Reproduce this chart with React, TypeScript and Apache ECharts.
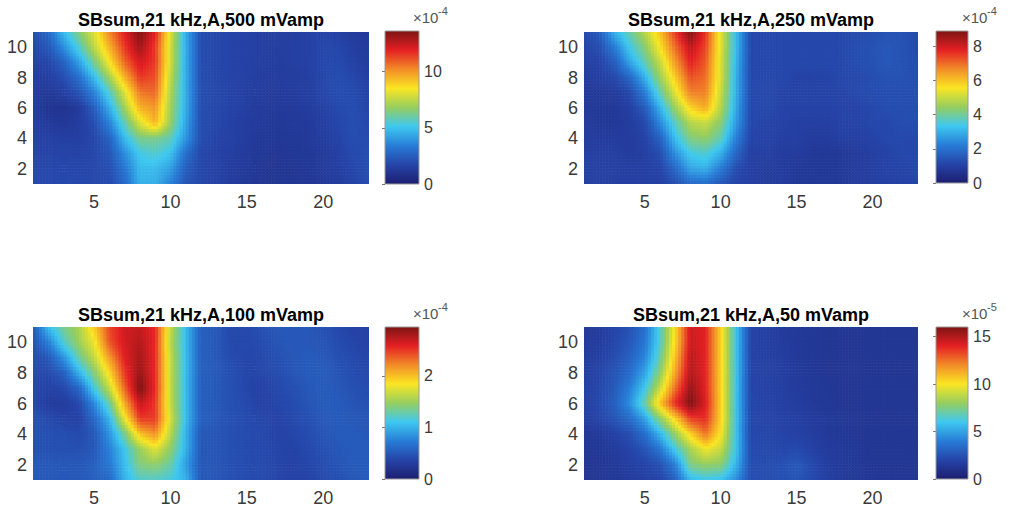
import React, { useEffect, useRef } from "react";
import * as echarts from "echarts";

// ---------- data ----------
const xRange = [1, 23];
const yRange = [1, 11];
const xTicks = [5, 10, 15, 20];
const yTicks = [2, 4, 6, 8, 10];

const titles = [
  "SBsum,21 kHz,A,500 mVamp",
  "SBsum,21 kHz,A,250 mVamp",
  "SBsum,21 kHz,A,100 mVamp",
  "SBsum,21 kHz,A,50 mVamp",
];

// values in colorbar units; rows from y = 11 (top) down to y = 1, columns x = 1..23
const sb500 = [
  [2.0, 2.8, 4.8, 6.5, 8.0, 10.3, 12.0, 13.5, 12.0, 8.0, 4.5, 2.0, 1.8, 1.7, 1.6, 1.5, 1.5, 1.5, 1.6, 1.7, 1.6, 1.3, 1.2],
  [1.8, 2.3, 3.8, 5.5, 7.5, 9.5, 11.5, 13.0, 11.5, 7.8, 4.5, 2.0, 1.8, 1.7, 1.6, 1.5, 1.5, 1.5, 1.6, 1.8, 1.8, 1.5, 1.3],
  [1.6, 1.8, 2.6, 4.2, 6.2, 8.5, 10.8, 12.2, 11.5, 7.8, 4.5, 2.0, 1.8, 1.7, 1.6, 1.5, 1.4, 1.5, 1.6, 1.8, 1.9, 1.6, 1.4],
  [1.4, 1.5, 2.0, 3.0, 4.8, 7.0, 9.5, 11.5, 11.2, 7.5, 4.5, 2.0, 1.8, 1.7, 1.6, 1.4, 1.4, 1.4, 1.5, 1.8, 2.0, 1.8, 1.5],
  [1.3, 1.2, 1.5, 2.2, 3.5, 5.5, 8.0, 10.5, 10.8, 7.2, 4.5, 2.0, 1.8, 1.7, 1.5, 1.4, 1.3, 1.4, 1.5, 1.7, 2.0, 1.9, 1.6],
  [1.4, 1.0, 1.0, 1.3, 2.5, 4.5, 7.0, 9.5, 10.0, 7.0, 4.5, 2.0, 1.8, 1.7, 1.5, 1.3, 1.3, 1.3, 1.4, 1.6, 1.9, 2.0, 1.7],
  [1.5, 1.3, 1.2, 1.4, 2.0, 3.5, 5.8, 8.0, 9.5, 6.8, 4.3, 2.0, 1.8, 1.6, 1.4, 1.3, 1.2, 1.3, 1.3, 1.5, 1.8, 2.0, 1.8],
  [1.6, 1.6, 1.5, 1.5, 1.8, 2.6, 4.8, 6.3, 6.3, 5.8, 4.0, 2.0, 1.7, 1.6, 1.4, 1.2, 1.2, 1.2, 1.3, 1.4, 1.7, 2.0, 1.9],
  [1.7, 1.7, 1.7, 1.7, 1.8, 2.2, 3.8, 5.2, 5.5, 5.0, 3.0, 1.8, 1.6, 1.5, 1.3, 1.2, 1.1, 1.2, 1.2, 1.3, 1.6, 1.9, 2.0],
  [1.8, 1.8, 1.8, 1.8, 1.8, 2.0, 3.2, 4.8, 4.8, 4.2, 2.5, 1.8, 1.6, 1.4, 1.3, 1.1, 1.1, 1.1, 1.2, 1.3, 1.5, 1.8, 2.0],
  [1.8, 1.8, 1.8, 1.8, 1.8, 1.9, 2.8, 4.6, 4.5, 3.5, 2.2, 1.8, 1.6, 1.4, 1.2, 1.1, 1.1, 1.1, 1.1, 1.2, 1.4, 1.7, 1.9],
];

const sb250 = [
  [1.2, 1.6, 3.0, 3.9, 4.8, 6.0, 7.5, 8.9, 7.6, 5.3, 3.2, 1.2, 1.2, 1.2, 1.2, 1.2, 1.2, 1.2, 1.2, 1.3, 1.4, 1.4, 1.2],
  [1.1, 1.3, 2.2, 3.4, 4.3, 5.6, 7.0, 8.2, 7.4, 5.3, 3.2, 1.2, 1.2, 1.2, 1.2, 1.2, 1.2, 1.2, 1.3, 1.4, 1.5, 1.4, 1.2],
  [1.0, 1.1, 1.6, 2.8, 3.8, 5.0, 6.5, 7.8, 7.2, 5.2, 3.1, 1.2, 1.2, 1.2, 1.2, 1.2, 1.2, 1.2, 1.3, 1.4, 1.5, 1.4, 1.3],
  [0.9, 1.0, 1.2, 1.8, 3.0, 4.5, 5.9, 7.3, 7.0, 5.2, 3.0, 1.2, 1.2, 1.2, 1.1, 1.1, 1.1, 1.2, 1.2, 1.3, 1.4, 1.4, 1.3],
  [0.8, 0.8, 0.9, 1.2, 2.2, 3.8, 5.3, 6.8, 6.8, 5.0, 3.0, 1.2, 1.2, 1.1, 1.1, 1.1, 1.1, 1.1, 1.2, 1.3, 1.3, 1.3, 1.3],
  [0.8, 0.8, 0.8, 1.0, 1.6, 3.0, 4.5, 5.8, 6.3, 4.8, 2.9, 1.2, 1.2, 1.1, 1.1, 1.1, 1.1, 1.1, 1.1, 1.2, 1.3, 1.3, 1.3],
  [0.9, 0.8, 0.8, 0.9, 1.2, 2.4, 3.7, 4.8, 5.0, 4.3, 2.7, 1.2, 1.1, 1.1, 1.0, 1.0, 1.0, 1.1, 1.1, 1.2, 1.2, 1.3, 1.3],
  [0.9, 0.9, 0.9, 0.9, 1.1, 1.7, 3.2, 4.2, 4.4, 3.8, 2.3, 1.1, 1.1, 1.0, 1.0, 0.9, 0.9, 1.0, 1.0, 1.1, 1.2, 1.2, 1.2],
  [1.0, 1.0, 1.0, 0.9, 1.0, 1.3, 2.5, 3.4, 3.6, 3.0, 1.8, 1.0, 1.0, 0.9, 0.9, 0.8, 0.8, 0.8, 0.9, 1.0, 1.1, 1.2, 1.2],
  [1.0, 1.0, 1.0, 1.0, 1.0, 1.1, 1.8, 2.8, 3.0, 2.2, 1.3, 1.0, 0.9, 0.9, 0.8, 0.8, 0.8, 0.8, 0.9, 1.0, 1.1, 1.1, 1.2],
  [1.0, 1.0, 1.0, 1.0, 1.0, 1.0, 1.3, 1.8, 1.9, 1.5, 1.1, 1.0, 0.9, 0.9, 0.8, 0.8, 0.8, 0.8, 0.9, 1.0, 1.0, 1.1, 1.1],
];

const sb100 = [
  [0.5, 1.05, 1.35, 1.55, 1.95, 2.45, 2.65, 2.7, 2.55, 1.65, 1.05, 0.55, 0.5, 0.4, 0.4, 0.45, 0.5, 0.5, 0.5, 0.45, 0.4, 0.35, 0.35],
  [0.45, 0.75, 1.2, 1.5, 1.8, 2.4, 2.65, 2.75, 2.55, 1.6, 1.05, 0.55, 0.5, 0.4, 0.4, 0.42, 0.48, 0.5, 0.5, 0.48, 0.42, 0.38, 0.35],
  [0.42, 0.5, 0.85, 1.3, 1.65, 2.15, 2.6, 2.8, 2.55, 1.65, 1.05, 0.55, 0.5, 0.42, 0.38, 0.4, 0.45, 0.5, 0.52, 0.5, 0.45, 0.4, 0.38],
  [0.4, 0.4, 0.55, 1.0, 1.4, 1.9, 2.5, 2.85, 2.55, 1.65, 1.05, 0.55, 0.5, 0.45, 0.38, 0.38, 0.42, 0.48, 0.52, 0.52, 0.48, 0.42, 0.4],
  [0.4, 0.35, 0.4, 0.6, 1.15, 1.65, 2.35, 2.95, 2.55, 1.65, 1.05, 0.55, 0.5, 0.45, 0.38, 0.35, 0.4, 0.45, 0.5, 0.52, 0.5, 0.45, 0.42],
  [0.4, 0.3, 0.3, 0.4, 0.8, 1.3, 2.1, 2.7, 2.5, 1.65, 1.05, 0.55, 0.5, 0.45, 0.4, 0.35, 0.38, 0.42, 0.48, 0.52, 0.52, 0.48, 0.45],
  [0.45, 0.4, 0.35, 0.35, 0.6, 1.0, 1.8, 2.5, 2.5, 1.7, 1.05, 0.55, 0.5, 0.45, 0.42, 0.38, 0.36, 0.4, 0.45, 0.5, 0.52, 0.5, 0.48],
  [0.45, 0.45, 0.45, 0.4, 0.5, 0.85, 1.35, 2.0, 2.2, 1.6, 1.0, 0.5, 0.48, 0.45, 0.42, 0.4, 0.36, 0.38, 0.42, 0.48, 0.52, 0.52, 0.5],
  [0.45, 0.45, 0.45, 0.45, 0.5, 0.75, 1.1, 1.5, 1.75, 1.45, 1.0, 0.5, 0.48, 0.45, 0.42, 0.4, 0.38, 0.36, 0.4, 0.45, 0.5, 0.52, 0.52],
  [0.5, 0.5, 0.5, 0.5, 0.55, 0.7, 1.05, 1.4, 1.45, 1.3, 0.9, 0.5, 0.48, 0.45, 0.42, 0.4, 0.38, 0.36, 0.38, 0.42, 0.48, 0.52, 0.52],
  [0.5, 0.5, 0.5, 0.5, 0.55, 0.6, 1.0, 1.2, 1.2, 1.15, 1.0, 0.5, 0.48, 0.45, 0.42, 0.4, 0.38, 0.36, 0.36, 0.4, 0.45, 0.5, 0.52],
];

const sb50 = [
  [1.5, 1.6, 2.0, 2.5, 3.5, 6.5, 10.2, 14.5, 14.0, 10.5, 6.0, 2.0, 1.8, 1.6, 1.5, 1.4, 1.3, 1.3, 1.3, 1.3, 1.3, 1.3, 1.3],
  [1.5, 1.7, 2.1, 2.7, 3.8, 6.5, 10.3, 14.5, 14.0, 10.5, 6.0, 2.0, 1.8, 1.6, 1.5, 1.4, 1.3, 1.3, 1.3, 1.3, 1.3, 1.3, 1.3],
  [1.6, 1.8, 2.3, 3.0, 4.2, 7.0, 10.8, 14.8, 14.0, 10.5, 6.0, 2.0, 1.8, 1.7, 1.5, 1.4, 1.3, 1.3, 1.3, 1.3, 1.3, 1.3, 1.3],
  [1.7, 2.0, 2.6, 3.4, 5.0, 7.8, 11.5, 15.0, 14.0, 10.5, 6.0, 2.0, 1.9, 1.7, 1.6, 1.4, 1.3, 1.3, 1.3, 1.3, 1.3, 1.3, 1.3],
  [1.8, 2.1, 2.8, 4.0, 6.0, 9.0, 12.5, 15.5, 14.0, 10.5, 6.0, 2.0, 1.9, 1.8, 1.6, 1.5, 1.4, 1.3, 1.3, 1.3, 1.3, 1.3, 1.3],
  [1.8, 2.2, 3.0, 4.5, 7.0, 10.8, 13.8, 16.0, 14.2, 10.5, 6.0, 2.1, 2.0, 1.8, 1.7, 1.5, 1.4, 1.3, 1.3, 1.3, 1.3, 1.3, 1.3],
  [1.7, 2.0, 2.6, 3.4, 5.0, 7.8, 10.5, 13.5, 13.8, 10.5, 6.0, 2.1, 2.0, 1.9, 1.8, 1.6, 1.5, 1.4, 1.3, 1.3, 1.3, 1.3, 1.3],
  [1.4, 1.5, 1.9, 2.4, 3.5, 5.5, 8.0, 10.5, 12.5, 10.0, 6.0, 2.1, 2.1, 2.0, 1.9, 1.7, 1.5, 1.4, 1.3, 1.3, 1.3, 1.3, 1.3],
  [1.3, 1.4, 1.6, 2.0, 2.6, 3.8, 6.2, 8.3, 9.8, 9.0, 6.0, 2.2, 2.2, 2.1, 2.2, 1.9, 1.6, 1.5, 1.4, 1.3, 1.3, 1.3, 1.3],
  [1.3, 1.3, 1.5, 1.8, 2.0, 2.5, 4.0, 7.5, 8.0, 7.8, 5.5, 2.3, 2.3, 2.4, 2.8, 2.2, 1.7, 1.5, 1.4, 1.3, 1.3, 1.3, 1.3],
  [1.3, 1.3, 1.4, 1.6, 1.8, 2.0, 3.0, 5.5, 6.0, 5.8, 4.5, 2.3, 2.3, 2.4, 2.6, 2.2, 1.8, 1.5, 1.4, 1.4, 1.3, 1.3, 1.3],
];

// colorbars: range maximum, tick values, exponent of the scale factor
const cbMax500 = 13.6;
const cbTicks500 = [0, 5, 10];
const cbExp500 = "-4";
const cbMax250 = 8.9;
const cbTicks250 = [0, 2, 4, 6, 8];
const cbExp250 = "-4";
const cbMax100 = 2.95;
const cbTicks100 = [0, 1, 2];
const cbExp100 = "-4";
const cbMax50 = 16;
const cbTicks50 = [0, 5, 10, 15];
const cbExp50 = "-5";

// ---------- styling ----------
const FONT = '"Liberation Sans", Arial, Helvetica, sans-serif';
const LABEL = "#3a3a3a";

const cmapStops: [number, number[]][] = [
  [0, [28, 30, 112]],
  [0.125, [38, 68, 168]],
  [0.25, [40, 125, 215]],
  [0.375, [62, 200, 240]],
  [0.5, [150, 206, 95]],
  [0.625, [250, 230, 35]],
  [0.75, [242, 140, 40]],
  [0.875, [228, 32, 36]],
  [1, [125, 20, 20]],
];

function cmap(f: number): string {
  const t = Math.max(0, Math.min(1, f));
  for (let i = 1; i < cmapStops.length; i++) {
    const [f1, c1] = cmapStops[i];
    const [f0, c0] = cmapStops[i - 1];
    if (t <= f1) {
      const u = (t - f0) / (f1 - f0);
      const c = c0.map((v, k) => Math.round(v + (c1[k] - v) * u));
      return `rgb(${c[0]},${c[1]},${c[2]})`;
    }
  }
  const c = cmapStops[cmapStops.length - 1][1];
  return `rgb(${c[0]},${c[1]},${c[2]})`;
}

function toData(rows: number[][]) {
  const out: number[][] = [];
  rows.forEach((row, r) => {
    const y = yRange[1] - r;
    row.forEach((v, c) => out.push([c + 1, y, v]));
  });
  return out;
}

// interpolated (MATLAB "shading interp"-like) rendering of each grid quad
function makeRender(rows: number[][], max: number) {
  const val = (x: number, y: number) => rows[yRange[1] - y][x - 1];
  const N = 5;
  return (_params: any, api: any) => {
    const x = api.value(0);
    const y = api.value(1);
    if (x >= xRange[1] || y >= yRange[1]) return null;
    const p0 = api.coord([x, y]);
    const p1 = api.coord([x + 1, y + 1]);
    const v00 = val(x, y);
    const v10 = val(x + 1, y);
    const v01 = val(x, y + 1);
    const v11 = val(x + 1, y + 1);
    const w = (p1[0] - p0[0]) / N;
    const h = (p0[1] - p1[1]) / N;
    const children: any[] = [];
    for (let i = 0; i < N; i++) {
      for (let j = 0; j < N; j++) {
        const fx = (i + 0.5) / N;
        const fy = (j + 0.5) / N;
        const v =
          v00 * (1 - fx) * (1 - fy) + v10 * fx * (1 - fy) + v01 * (1 - fx) * fy + v11 * fx * fy;
        const ovx = i < N - 1 || x + 1 < xRange[1] ? 0.6 : 0;
        const ovy = j < N - 1 || y + 1 < yRange[1] ? 0.6 : 0;
        children.push({
          type: "rect",
          shape: {
            x: p0[0] + i * w,
            y: p0[1] - (j + 1) * h - ovy,
            width: w + ovx,
            height: h + ovy,
          },
          style: { fill: cmap(v / max) },
        });
      }
    }
    return { type: "group", children };
  };
}

function makeBarRender() {
  return (_params: any, api: any) => {
    const p0 = api.coord([0, 0]);
    const p1 = api.coord([1, api.value(1)]);
    return {
      type: "rect",
      shape: { x: p0[0], y: p1[1], width: p1[0] - p0[0], height: p0[1] - p1[1] },
      style: {
        fill: new echarts.graphic.LinearGradient(
          0,
          1,
          0,
          0,
          cmapStops.map(([o, c]) => ({ offset: o, color: `rgb(${c[0]},${c[1]},${c[2]})` }))
        ),
        stroke: "#9a9a9a",
        lineWidth: 1,
      },
    };
  };
}

const panels = [
  { rows: sb500, title: titles[0], max: cbMax500, ticks: cbTicks500, exp: cbExp500,
    plot: { left: 33, top: 32, width: 336, height: 152 }, bar: { left: 385, top: 31, width: 34, height: 153 } },
  { rows: sb250, title: titles[1], max: cbMax250, ticks: cbTicks250, exp: cbExp250,
    plot: { left: 584, top: 32, width: 334, height: 152 }, bar: { left: 936, top: 31, width: 32, height: 152 } },
  { rows: sb100, title: titles[2], max: cbMax100, ticks: cbTicks100, exp: cbExp100,
    plot: { left: 33, top: 327, width: 336, height: 153 }, bar: { left: 385, top: 327, width: 34, height: 152 } },
  { rows: sb50, title: titles[3], max: cbMax50, ticks: cbTicks50, exp: cbExp50,
    plot: { left: 584, top: 327, width: 334, height: 153 }, bar: { left: 936, top: 327, width: 32, height: 152 } },
];

function buildOption() {
  const grid: any[] = [];
  const xAxis: any[] = [];
  const yAxis: any[] = [];
  const series: any[] = [];
  const graphic: any[] = [];

  panels.forEach((p, i) => {
    const gp = 2 * i;
    const gb = 2 * i + 1;
    grid.push({ ...p.plot, show: false });
    grid.push({ ...p.bar, show: false });

    xAxis.push({
      type: "value",
      gridIndex: gp,
      min: xRange[0],
      max: xRange[1],
      axisLine: { show: false },
      axisTick: { show: false },
      splitLine: { show: false },
      axisLabel: { customValues: xTicks, fontSize: 18, color: LABEL, fontFamily: FONT, margin: 9 },
    });
    xAxis.push({ type: "value", gridIndex: gb, min: 0, max: 1, show: false });

    yAxis.push({
      type: "value",
      gridIndex: gp,
      min: yRange[0],
      max: yRange[1],
      axisLine: { show: false },
      axisTick: { show: false },
      splitLine: { show: false },
      axisLabel: { customValues: yTicks, fontSize: 18, color: LABEL, fontFamily: FONT, margin: 6 },
    });
    yAxis.push({
      type: "value",
      gridIndex: gb,
      position: "right",
      min: 0,
      max: p.max,
      axisLine: { show: false },
      splitLine: { show: false },
      axisTick: { show: true, inside: true, length: 3, customValues: p.ticks, lineStyle: { color: "#777" } },
      axisLabel: { customValues: p.ticks, fontSize: 16, color: LABEL, fontFamily: FONT, margin: 5 },
    });

    series.push({
      type: "custom",
      xAxisIndex: gp,
      yAxisIndex: gp,
      silent: true,
      data: toData(p.rows),
      renderItem: makeRender(p.rows, p.max),
    });
    series.push({
      type: "custom",
      xAxisIndex: gb,
      yAxisIndex: gb,
      silent: true,
      data: [[0, p.max]],
      renderItem: makeBarRender(),
      z: 3,
    });

    graphic.push({
      type: "text",
      x: p.plot.left + p.plot.width / 2,
      y: p.plot.top - 12,
      style: {
        text: p.title,
        fontSize: 18,
        fontWeight: "bold",
        fontFamily: FONT,
        fill: "#000",
        align: "center",
        verticalAlign: "middle",
      },
    });
    const ex = p.bar.left + p.bar.width - 6;
    const ey = p.bar.top - 14;
    graphic.push({
      type: "text",
      x: ex,
      y: ey,
      style: { text: "×10", fontSize: 15, fontFamily: FONT, fill: "#555", align: "left", verticalAlign: "middle" },
    });
    graphic.push({
      type: "text",
      x: ex + 25,
      y: ey - 6,
      style: { text: p.exp, fontSize: 11, fontFamily: FONT, fill: "#555", align: "left", verticalAlign: "middle" },
    });
  });

  return {
    animation: false,
    backgroundColor: "#ffffff",
    grid,
    xAxis,
    yAxis,
    series,
    graphic,
  };
}

export default function App() {
  const ref = useRef<HTMLDivElement>(null);
  useEffect(() => {
    if (!ref.current) return;
    const chart = echarts.init(ref.current, null, { renderer: "svg" });
    chart.setOption(buildOption() as any);
    return () => chart.dispose();
  }, []);
  return (
    <div
      ref={ref}
      style={{ position: "fixed", left: 0, top: 0, width: 1010, height: 512, background: "#fff" }}
    />
  );
}
